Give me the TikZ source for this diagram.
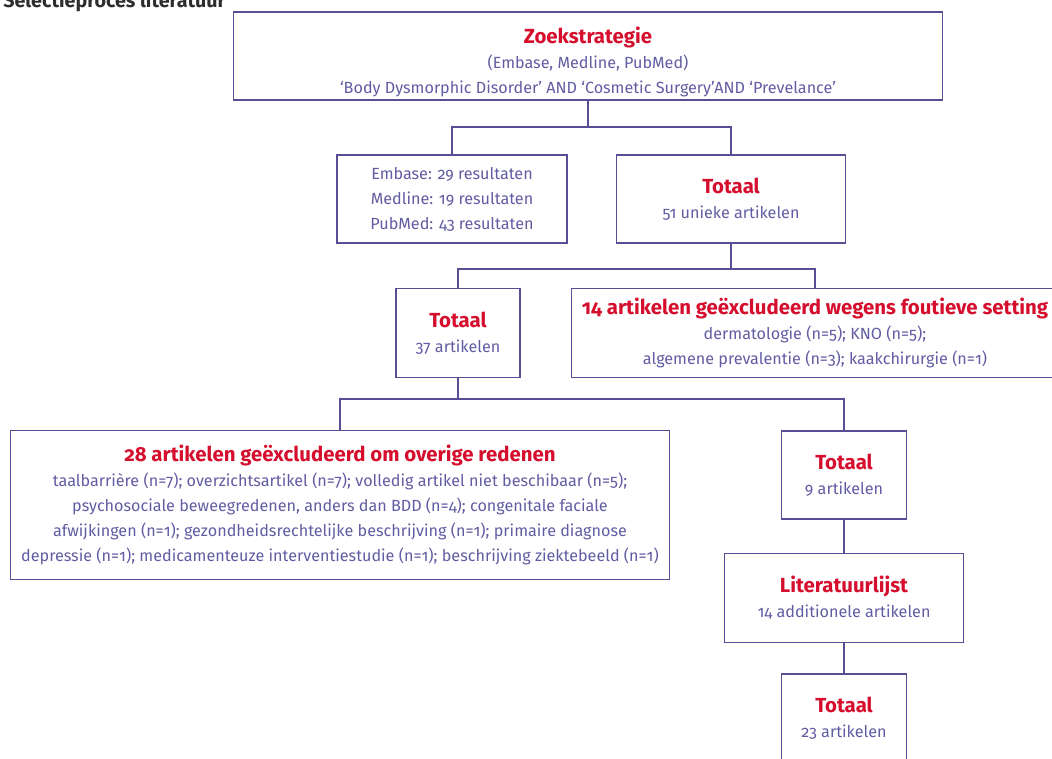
\documentclass[tikz,border=0pt]{standalone}
\usepackage{fontspec}
\setmainfont{Fira Sans}[Numbers=OldStyle]
\usetikzlibrary{positioning}

\definecolor{kader}{RGB}{88,78,150}
\definecolor{tekst}{RGB}{98,92,162}
\definecolor{kopkleur}{RGB}{212,14,44}
\definecolor{titelgrijs}{RGB}{45,45,45}
\newcommand{\kop}[1]{{\fontsize{11.6}{14.2}\selectfont\bfseries\color{kopkleur}#1}}

\begin{document}
\begin{tikzpicture}[
    x=0.02cm, y=-0.02cm,
    blok/.style={draw=kader, line width=0.6pt, align=center, text=tekst, inner sep=0pt,
        minimum height=1.76cm, font={\fontsize{9.2}{14.2}\selectfont}},
    lijn/.style={draw=kader, line width=0.6pt},
    titel/.style={font={\fontsize{11.2}{12}\selectfont\bfseries}, text=titelgrijs, inner sep=0pt}
]
\clip (0,0) rectangle (1052,758);
\node[titel, anchor=base west] (kopregel) at (3,7) {Selectieproces literatuur};

\node[blok, minimum width=14.2cm] (zoek) at (588,56)
    {\rule{0pt}{0.57cm}\kop{Zoekstrategie}\\(Embase, Medline, PubMed)\\‘Body Dysmorphic Disorder’ AND ‘Cosmetic Surgery’AND ‘Prevelance’};
\node[blok, minimum width=4.6cm] (bron) at (452,199)
    {Embase: 29 resultaten\\Medline: 19 resultaten\\PubMed: 43 resultaten};
\node[blok, minimum width=4.58cm] (tot1) at (731,199) {\kop{Totaal}\\51 unieke artikelen};
\node[blok, minimum width=2.48cm, minimum height=1.78cm] (tot2) at (458,333) {\kop{Totaal}\\37 artikelen};
\node[blok, minimum width=9.76cm, minimum height=1.78cm] (excl1) at (815,333)
    {\kop{14 artikelen geëxcludeerd wegens foutieve setting}\\dermatologie (n=5); KNO (n=5);\\algemene prevalentie (n=3); kaakchirurgie (n=1)};
\node[blok, minimum width=13.2cm, minimum height=2.98cm] (excl2) at (340,505)
    {\kop{28 artikelen geëxcludeerd om overige redenen}\\taalbarrière (n=7); overzichtsartikel (n=7); volledig artikel niet beschibaar (n=5);\\psychosociale beweegredenen, anders dan BDD (n=4); congenitale faciale\\afwijkingen (n=1); gezondheidsrechtelijke beschrijving (n=1); primaire diagnose\\depressie (n=1); medicamenteuze interventiestudie (n=1); beschrijving ziektebeeld (n=1)};
\node[blok, minimum width=2.5cm] (tot3) at (844,475) {\kop{Totaal}\\9 artikelen};
\node[blok, minimum width=4.78cm, minimum height=1.78cm] (lit) at (844,598) {\kop{Literatuurlijst}\\14 additionele artikelen};
\node[blok, minimum width=2.5cm] (tot4) at (844,718) {\kop{Totaal}\\23 artikelen};

% splitsingen
\coordinate (s1) at (588,127);
\coordinate (s2) at (731,269);
\coordinate (s3) at (458,399);

\draw[lijn] (zoek) -- (s1);
\draw[lijn] (bron.north) |- (s1) -| (tot1.north);
\draw[lijn] (tot1) -- (s2);
\draw[lijn] (tot2.north) |- (s2) -| (excl1.north);
\draw[lijn] (tot2) -- (s3);
\draw[lijn] (excl2.north) |- (s3) -| (tot3.north);
\draw[lijn] (tot3) -- (lit);
\draw[lijn] (lit) -- (tot4);
\end{tikzpicture}
\end{document}
